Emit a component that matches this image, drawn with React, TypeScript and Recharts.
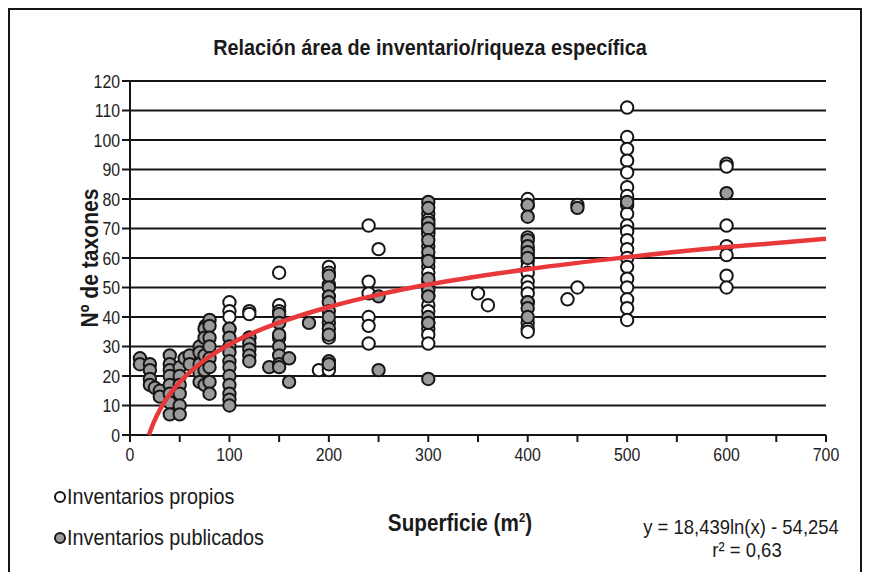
import React from 'react'
import {
  ScatterChart, Scatter, XAxis, YAxis, CartesianGrid,
} from 'recharts'

// Inventarios propios (white markers): [superficie m2, nº taxones]
const propios: [number, number][] = [
  [76, 37],
  [100, 45], [100, 42], [100, 40], [100, 36],
  [120, 42], [120, 41], [120, 33],
  [150, 55], [150, 44], [150, 42], [150, 33],
  [190, 22],
  [200, 57], [200, 55], [200, 51], [200, 38], [200, 33], [200, 23], [200, 22],
  [240, 71], [240, 52], [240, 48], [240, 40], [240, 37], [240, 31],
  [250, 63],
  [300, 75], [300, 73], [300, 71], [300, 69], [300, 68], [300, 64], [300, 60], [300, 57],
  [300, 55], [300, 52], [300, 50], [300, 47], [300, 44], [300, 42], [300, 38], [300, 36],
  [300, 34], [300, 31],
  [350, 48], [360, 44],
  [400, 80], [400, 78], [400, 67], [400, 63], [400, 61], [400, 59], [400, 57], [400, 55],
  [400, 52], [400, 50], [400, 48], [400, 45], [400, 38], [400, 36], [400, 35],
  [440, 46], [450, 78], [450, 50],
  [500, 111], [500, 101], [500, 97], [500, 93], [500, 89], [500, 84], [500, 81], [500, 78],
  [500, 75], [500, 71], [500, 69], [500, 66], [500, 63], [500, 60], [500, 57], [500, 53],
  [500, 50], [500, 46], [500, 43], [500, 39],
  [600, 92], [600, 91], [600, 71], [600, 64], [600, 61], [600, 54], [600, 50],
]

// Inventarios publicados (grey markers)
const publicados: [number, number][] = [
  [10, 26], [10, 24],
  [20, 24], [20, 22], [20, 19], [20, 17],
  [25, 16], [30, 15], [30, 13],
  [40, 27], [40, 24], [40, 22], [40, 20], [40, 17], [40, 14], [40, 11], [40, 7],
  [50, 23], [50, 20], [50, 17], [50, 14], [50, 10], [50, 7],
  [55, 26], [60, 27], [60, 24],
  [70, 30], [70, 28], [70, 24], [70, 21], [70, 18],
  [75, 36], [75, 33], [75, 27], [75, 22], [75, 17],
  [80, 39], [80, 37], [80, 33], [80, 30], [80, 26], [80, 23], [80, 18], [80, 14],
  [100, 36], [100, 33], [100, 30], [100, 28], [100, 25], [100, 23], [100, 20], [100, 17],
  [100, 14], [100, 12], [100, 10],
  [120, 33], [120, 31], [120, 29], [120, 27], [120, 25],
  [140, 23],
  [150, 41], [150, 38], [150, 34], [150, 30], [150, 27], [150, 24], [150, 23],
  [160, 26], [160, 18], [180, 38],
  [200, 54], [200, 50], [200, 47], [200, 45], [200, 42], [200, 40], [200, 36], [200, 34],
  [200, 25], [200, 24],
  [250, 47], [250, 22],
  [300, 79], [300, 77], [300, 72], [300, 70], [300, 66], [300, 62], [300, 59], [300, 53],
  [300, 49], [300, 47], [300, 40], [300, 38], [300, 19],
  [400, 78], [400, 74], [400, 66], [400, 64], [400, 62], [400, 60], [400, 45], [400, 43], [400, 40],
  [450, 77], [500, 79], [600, 82],
]

// red trend curve
const trend: [number, number][] = [
  [19, 0], [22, 2.7], [25, 5.1], [30, 8.5], [35, 11.3], [40, 13.8], [50, 17.9], [60, 21.2],
  [75, 25.4], [100, 30.7], [125, 34.8], [150, 38.1], [200, 43.4], [250, 47.6], [300, 51],
  [400, 56.2], [500, 60.3], [600, 63.7], [700, 66.5],
]

const xTicks = [0, 50, 100, 150, 200, 250, 300, 350, 400, 450, 500, 550, 600, 650, 700]
const yTicks = [0, 10, 20, 30, 40, 50, 60, 70, 80, 90, 100, 110, 120]
const yMinorTicks = [5, 15, 25, 35, 45, 55, 65, 75, 85, 95, 105, 115]

// no Arial Narrow offline: squeeze Liberation Sans instead
const FONT = "'Liberation Sans', Arial, sans-serif"
const SQ = 0.88
const INK = '#161616'

const toPts = (arr: [number, number][]) => arr.map(([x, y]) => ({ x, y }))

const Dot = (fill: string) => (props: any) => (
  <circle cx={props.cx} cy={props.cy} r={6.2} fill={fill} stroke={INK} strokeWidth={2} />
)

const XTick = ({ x, y, payload }: any) =>
  payload.value % 100 === 0 ? (
    <g transform={`translate(${x},${y})`}>
      <text transform={`scale(${SQ},1)`} dy={17} textAnchor="middle" fontSize={18} fontFamily={FONT} fill="#222">
        {payload.value}
      </text>
    </g>
  ) : <g />

const YTick = ({ x, y, payload }: any) => (
  <g transform={`translate(${x},${y})`}>
    <text transform={`scale(${SQ},1)`} dy={6.5} textAnchor="end" fontSize={18} fontFamily={FONT} fill="#222">
      {payload.value}
    </text>
  </g>
)

const center = (left: number, top: number, size: number, bold = false): React.CSSProperties => ({
  position: 'absolute', left, top, whiteSpace: 'nowrap', lineHeight: 1,
  transform: `translate(-50%, -50%) scaleX(${SQ})`,
  fontFamily: FONT, fontSize: size, fontWeight: bold ? 'bold' : 'normal', color: '#1a1a1a',
})

const leftText = (left: number, top: number, size: number): React.CSSProperties => ({
  position: 'absolute', left, top, whiteSpace: 'nowrap', lineHeight: 1,
  transform: `translateY(-50%) scaleX(${SQ})`, transformOrigin: 'left center',
  fontFamily: FONT, fontSize: size, color: '#1a1a1a',
})

const LegendDot = ({ left, top, fill }: { left: number; top: number; fill: string }) => (
  <svg width={14} height={14} style={{ position: 'absolute', left: left - 7, top: top - 7 }}>
    <circle cx={7} cy={7} r={5} fill={fill} stroke={INK} strokeWidth={2} />
  </svg>
)

export default function App() {
  return (
    <div style={{ position: 'relative', width: 850, height: 562, border: `2px solid ${INK}`, background: '#fff' }}>
      <ScatterChart width={850} height={562} margin={{ top: 71, right: 34, left: 70, bottom: 107 }}>
        <CartesianGrid vertical={false} stroke={INK} strokeWidth={2} />
        <XAxis
          type="number"
          dataKey="x"
          domain={[0, 700]}
          ticks={xTicks}
          interval={0}
          height={30}
          tick={<XTick />}
          tickSize={7}
          axisLine={{ stroke: INK, strokeWidth: 2 }}
          tickLine={{ stroke: INK, strokeWidth: 2 }}
        />
        <YAxis
          yAxisId="minor"
          type="number"
          domain={[0, 120]}
          ticks={yMinorTicks}
          interval={0}
          width={0}
          tick={false}
          tickSize={6}
          axisLine={false}
          tickLine={{ stroke: INK, strokeWidth: 2 }}
        />
        <YAxis
          type="number"
          dataKey="y"
          domain={[0, 120]}
          ticks={yTicks}
          interval={0}
          width={50}
          tick={<YTick />}
          tickSize={8}
          tickMargin={2}
          axisLine={{ stroke: INK, strokeWidth: 2 }}
          tickLine={{ stroke: INK, strokeWidth: 2 }}
        />
        <Scatter data={toPts(propios)} shape={Dot('#ffffff')} isAnimationActive={false} />
        <Scatter data={toPts(publicados)} shape={Dot('#9b9b9b')} isAnimationActive={false} />
        <Scatter
          data={toPts(trend)}
          shape={() => <g />}
          line={{ stroke: '#e8383a', strokeWidth: 4.5 }}
          lineJointType="monotoneX"
          isAnimationActive={false}
        />
      </ScatterChart>

      <div style={center(420, 38, 22.5, true)}>
        Relación área de inventario/riqueza específica
      </div>
      <div style={{ ...center(80, 248, 24, true), transform: `translate(-50%, -50%) rotate(-90deg) scaleX(${SQ})` }}>
        Nº de taxones
      </div>
      <div style={center(450, 513, 23.5, true)}>
        Superficie (m<sup style={{ fontSize: 13 }}>2</sup>)
      </div>

      <LegendDot left={50} top={487} fill="#ffffff" />
      <div style={leftText(57, 487, 22.5)}>Inventarios propios</div>
      <LegendDot left={50} top={528} fill="#9b9b9b" />
      <div style={leftText(57, 528, 22.5)}>Inventarios publicados</div>

      <div style={center(731, 516, 21)}>y = 18,439ln(x) - 54,254</div>
      <div style={center(737, 539, 21)}>r² = 0,63</div>
    </div>
  )
}
